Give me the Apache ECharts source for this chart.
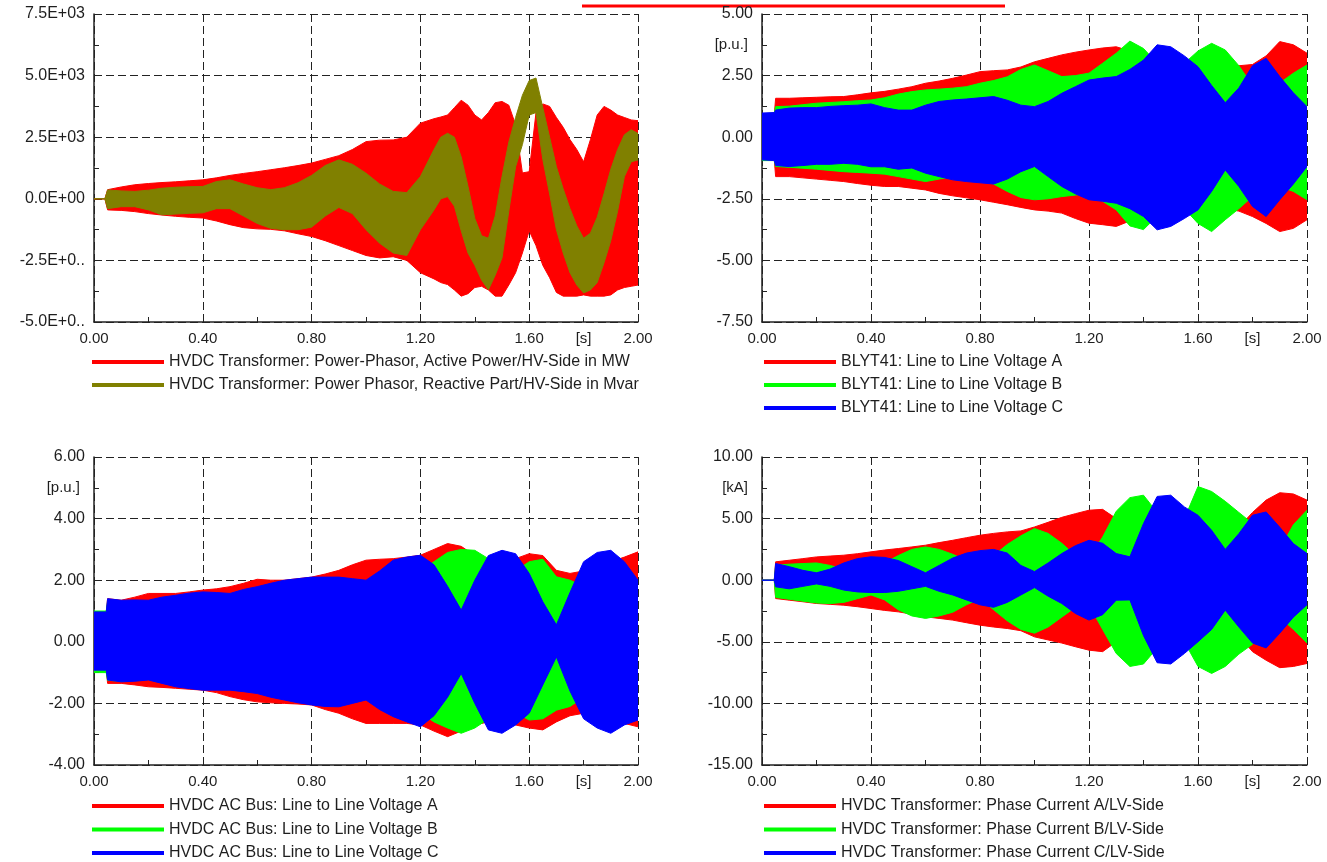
<!DOCTYPE html>
<html>
<head>
<meta charset="utf-8">
<script src="https://cdn.jsdelivr.net/npm/echarts@6/dist/echarts.min.js"></script>
<style>
html, body { margin: 0; padding: 0; background: #fff; }
#chart { width: 1327px; height: 862px; }
</style>
</head>
<body>
<div id="chart"></div>
<script>
// time samples [s]
var T1 = [0, 0.04, 0.05, 0.1, 0.15, 0.2, 0.25, 0.3, 0.35, 0.4,
    0.45, 0.5, 0.55, 0.6, 0.65, 0.7, 0.75, 0.8, 0.85, 0.9,
    0.95, 1.0, 1.05, 1.1, 1.15, 1.2, 1.25, 1.275, 1.3, 1.325,
    1.35, 1.375, 1.4, 1.425, 1.45, 1.475, 1.5, 1.525, 1.55, 1.575,
    1.6, 1.625, 1.65, 1.675, 1.7, 1.725, 1.75, 1.775, 1.8, 1.825,
    1.85, 1.875, 1.9, 1.925, 1.95, 1.975, 2.0];
var T = [0, 0.045, 0.05, 0.1, 0.15, 0.2, 0.25, 0.3, 0.35, 0.4,
    0.45, 0.5, 0.55, 0.6, 0.65, 0.7, 0.75, 0.8, 0.85, 0.9,
    0.95, 1.0, 1.05, 1.1, 1.15, 1.2, 1.25, 1.3, 1.35, 1.4,
    1.45, 1.5, 1.55, 1.6, 1.65, 1.7, 1.75, 1.8, 1.85, 1.9,
    1.95, 2.0];

// panel 1: active / reactive power, upper and lower envelope
var pP_hi = [0, 0, 370, 480, 570, 620, 660, 690, 730, 770,
    850, 950, 1030, 1100, 1180, 1260, 1350, 1450, 1600, 1750,
    2000, 2320, 2380, 2390, 2500, 3070, 3250, 3320, 3400, 3700,
    4000, 3800, 3400, 3200, 3500, 3900, 3950, 3800, 3000, 1050,
    1100, 3500, 3850, 3750, 3300, 2900, 2400, 2000, 1500, 2400,
    3400, 3750, 3600, 3400, 3300, 3200, 3170];
var pP_lo = [0, 0, -450, -470, -520, -600, -660, -710, -750, -780,
    -900, -1050, -1170, -1220, -1240, -1300, -1420, -1530, -1700, -1900,
    -2100, -2300, -2400, -2350, -2500, -3000, -3250, -3400, -3480, -3700,
    -3950, -3850, -3600, -3550, -3700, -3950, -3950, -3500, -3000, -2200,
    -1300, -1900, -2700, -3200, -3800, -3950, -3950, -3950, -3900, -3950,
    -3950, -3950, -3900, -3700, -3600, -3550, -3500];
var pQ_hi = [0, 0, 360, 320, 300, 350, 430, 470, 490, 500,
    700, 770, 600, 450, 370, 450, 650, 950, 1350, 1580,
    1400, 1040, 600, 300, 250, 900, 2000, 2500, 2660, 2500,
    1700, 500, -800, -1500, -1600, -700, 900, 2300, 3300, 4200,
    4800, 4900, 3700, 2500, 1300, 400, -400, -1100, -1600, -1400,
    -750, 200, 1200, 2000, 2600, 2800, 2650];
var pQ_lo = [0, 0, -400, -320, -320, -450, -650, -620, -590, -570,
    -400, -400, -700, -1000, -1200, -1255, -1255, -1150, -700, -350,
    -600, -1255, -1800, -2200, -2300, -1255, -450, 0, 90, -300,
    -1300, -2200, -2700, -3300, -3690, -3100, -2400, -500, 1300, 2200,
    3400, 3500, 1600, 200, -1250, -2200, -3000, -3500, -3820, -3700,
    -3400, -2600, -1700, -500, 900, 1500, 1580];

// panel 2: BLYT41 line to line voltages [p.u.]
var vA_hi = [0.9, 0.9, 1.58, 1.58, 1.60, 1.62, 1.64, 1.65, 1.72, 1.80,
    1.86, 1.95, 2.05, 2.19, 2.28, 2.39, 2.52, 2.66, 2.70, 2.73,
    2.85, 3.06, 3.20, 3.34, 3.45, 3.54, 3.62, 3.67, 3.50, 3.30,
    3.20, 3.10, 3.15, 3.10, 3.00, 2.95, 2.90, 2.95, 3.30, 3.88,
    3.75, 3.41];
var vA_lo = [-0.9, -0.9, -1.60, -1.60, -1.65, -1.70, -1.75, -1.80, -1.88, -1.95,
    -2.00, -2.00, -2.07, -2.14, -2.28, -2.38, -2.46, -2.54, -2.64, -2.74,
    -2.85, -2.95, -3.00, -3.08, -3.30, -3.49, -3.55, -3.62, -3.40, -3.20,
    -3.10, -3.00, -3.00, -2.95, -2.90, -2.90, -3.00, -3.22, -3.50, -3.83,
    -3.70, -3.35];
var vB_hi = [0.95, 0.98, 1.24, 1.26, 1.32, 1.38, 1.41, 1.44, 1.48, 1.51,
    1.60, 1.75, 1.85, 1.92, 1.95, 1.99, 2.05, 2.19, 2.30, 2.45,
    2.75, 2.93, 2.70, 2.46, 2.50, 2.60, 3.00, 3.41, 3.90, 3.60,
    3.00, 2.60, 3.00, 3.50, 3.81, 3.54, 2.90, 2.10, 2.00, 2.20,
    2.60, 2.93];
var vB_lo = [-0.95, -0.95, -1.19, -1.22, -1.26, -1.30, -1.35, -1.40, -1.43, -1.46,
    -1.50, -1.60, -1.70, -1.80, -1.70, -1.60, -1.65, -1.73, -1.90, -2.20,
    -2.45, -2.54, -2.50, -2.41, -2.35, -2.27, -2.60, -2.95, -3.60, -3.75,
    -3.20, -2.60, -2.90, -3.50, -3.83, -3.35, -2.90, -2.41, -2.20, -2.00,
    -2.20, -2.54];
var vC_hi = [0.98, 1.00, 1.10, 1.18, 1.20, 1.20, 1.25, 1.28, 1.30, 1.35,
    1.20, 1.10, 1.10, 1.30, 1.45, 1.51, 1.55, 1.60, 1.65, 1.50,
    1.30, 1.24, 1.45, 1.78, 2.05, 2.32, 2.40, 2.46, 2.75, 3.13,
    3.75, 3.67, 3.30, 2.86, 2.10, 1.40, 2.00, 2.90, 3.20, 2.46,
    1.80, 1.24];
var vC_lo = [-0.92, -0.95, -1.15, -1.19, -1.15, -1.10, -1.10, -1.06, -1.10, -1.20,
    -1.20, -1.30, -1.25, -1.46, -1.60, -1.73, -1.80, -1.85, -1.90, -1.70,
    -1.40, -1.19, -1.60, -2.00, -2.30, -2.54, -2.60, -2.68, -2.90, -3.22,
    -3.76, -3.62, -3.30, -2.95, -2.20, -1.33, -2.00, -2.81, -3.22, -2.54,
    -1.90, -1.19];

// panel 3: HVDC AC bus line to line voltages [p.u.]
var uA_hi = [0.90, 0.95, 1.40, 1.35, 1.45, 1.57, 1.57, 1.57, 1.62, 1.68,
    1.72, 1.79, 1.90, 2.03, 2.00, 2.00, 2.05, 2.10, 2.20, 2.32,
    2.50, 2.65, 2.68, 2.70, 2.75, 2.81, 3.00, 3.19, 3.10, 2.80,
    2.60, 2.60, 2.70, 2.86, 2.80, 2.32, 2.22, 2.30, 2.50, 2.60,
    2.75, 2.92];
var uA_lo = [-0.90, -0.90, -1.35, -1.35, -1.40, -1.46, -1.48, -1.51, -1.54, -1.57,
    -1.65, -1.78, -1.88, -1.95, -1.98, -2.00, -2.02, -2.05, -2.20, -2.32,
    -2.50, -2.65, -2.65, -2.65, -2.65, -2.70, -2.90, -3.08, -2.90, -2.70,
    -2.60, -2.60, -2.70, -2.80, -2.86, -2.60, -2.40, -2.32, -2.40, -2.50,
    -2.65, -2.76];
var uB_hi = [1.00, 1.00, 1.30, 1.30, 1.30, 1.30, 1.40, 1.45, 1.50, 1.55,
    1.55, 1.55, 1.60, 1.70, 1.80, 1.90, 1.95, 2.00, 2.00, 2.00,
    1.95, 1.90, 2.00, 2.10, 2.20, 2.30, 2.60, 2.90, 3.00, 2.97,
    2.70, 2.30, 2.30, 2.60, 2.68, 2.11, 2.00, 1.80, 1.60, 1.50,
    1.60, 1.80];
var uB_lo = [-1.00, -1.00, -1.25, -1.28, -1.25, -1.22, -1.30, -1.40, -1.45, -1.50,
    -1.50, -1.50, -1.55, -1.62, -1.72, -1.80, -1.90, -1.95, -2.00, -2.00,
    -1.95, -1.85, -2.00, -2.10, -2.20, -2.30, -2.60, -2.80, -2.97, -2.80,
    -2.50, -2.30, -2.30, -2.54, -2.50, -2.22, -2.10, -1.80, -1.60, -1.50,
    -1.60, -1.80];
var uC_hi = [0.97, 0.97, 1.40, 1.35, 1.36, 1.35, 1.45, 1.51, 1.58, 1.62,
    1.60, 1.57, 1.70, 1.79, 1.90, 2.00, 2.05, 2.10, 2.10, 2.10,
    2.05, 2.00, 2.30, 2.65, 2.75, 2.81, 2.50, 1.80, 1.03, 2.00,
    2.80, 2.97, 2.86, 2.22, 1.30, 0.55, 1.60, 2.60, 2.90, 2.97,
    2.60, 2.00];
var uC_lo = [-0.92, -0.92, -1.24, -1.30, -1.28, -1.24, -1.35, -1.46, -1.52, -1.57,
    -1.57, -1.57, -1.62, -1.68, -1.80, -1.89, -1.98, -2.05, -2.10, -2.11,
    -2.00, -1.89, -2.20, -2.43, -2.60, -2.76, -2.40, -1.80, -1.03, -2.00,
    -2.86, -2.97, -2.70, -2.32, -1.40, -0.49, -1.60, -2.50, -2.80, -2.97,
    -2.70, -2.54];

// panel 4: HVDC transformer phase currents [kA]
var iA_hi = [0, 0, 1.49, 1.62, 1.75, 1.89, 1.96, 2.03, 2.15, 2.30,
    2.45, 2.57, 2.70, 2.84, 3.05, 3.24, 3.45, 3.65, 3.80, 3.92,
    4.00, 4.32, 4.70, 5.10, 5.40, 5.68, 5.75, 5.00, 4.20, 3.50,
    3.00, 3.00, 3.20, 3.50, 3.70, 3.80, 4.30, 5.50, 6.50, 7.10,
    7.00, 6.50];
var iA_lo = [0, 0, -1.49, -1.62, -1.75, -1.89, -1.96, -2.03, -2.15, -2.30,
    -2.45, -2.57, -2.75, -2.97, -3.10, -3.24, -3.45, -3.65, -3.80, -3.92,
    -4.10, -4.60, -4.85, -5.10, -5.40, -5.68, -5.80, -5.00, -4.20, -3.50,
    -3.00, -3.00, -3.20, -3.50, -3.70, -3.80, -4.50, -5.80, -6.50, -7.10,
    -7.00, -6.76];
var iB_hi = [0, 0, 1.20, 1.30, 1.35, 1.40, 1.20, 0.90, 0.70, 0.80,
    1.40, 2.00, 2.50, 2.70, 2.50, 2.10, 1.60, 1.30, 2.00, 2.90,
    3.60, 4.19, 3.80, 3.00, 2.00, 1.80, 3.50, 5.60, 6.70, 6.90,
    5.50, 3.50, 5.00, 7.60, 7.20, 6.40, 5.50, 4.60, 3.50, 2.50,
    4.50, 5.68];
var iB_lo = [0, 0, -1.40, -1.55, -1.70, -1.85, -1.90, -1.80, -1.50, -1.20,
    -1.60, -2.40, -2.90, -3.10, -2.90, -2.60, -2.00, -1.50, -2.40, -3.30,
    -4.00, -4.30, -3.80, -3.00, -2.20, -2.00, -4.00, -5.95, -7.00, -6.80,
    -5.50, -3.50, -5.00, -7.00, -7.57, -7.00, -6.00, -5.20, -4.00, -3.00,
    -4.00, -5.10];
var iC_hi = [0, 0, 1.35, 1.10, 0.80, 0.60, 0.90, 1.40, 1.75, 1.90,
    1.85, 1.60, 1.10, 0.60, 1.20, 1.80, 2.20, 2.40, 2.50, 2.20,
    1.20, 0.70, 1.40, 2.16, 2.80, 3.24, 3.00, 2.16, 1.90, 4.60,
    6.80, 6.90, 5.95, 5.27, 4.05, 2.50, 3.78, 5.27, 5.54, 4.30,
    2.97, 2.16];
var iC_lo = [0, 0, -0.54, -0.70, -0.50, -0.30, -0.50, -0.80, -0.95, -1.00,
    -1.00, -0.90, -0.70, -0.50, -0.90, -1.20, -1.60, -2.00, -2.20, -1.80,
    -1.20, -0.60, -1.30, -1.89, -2.70, -3.24, -2.80, -1.62, -1.60, -4.50,
    -6.70, -6.80, -5.95, -5.00, -4.00, -2.43, -3.80, -5.10, -5.50, -4.30,
    -3.00, -2.00];

// tick labels
var xLabels = ['0.00', '0.40', '0.80', '1.20', '1.60', '2.00'];
var y1Labels = ['-5.0E+0..', '-2.5E+0..', '0.0E+00', '2.5E+03', '5.0E+03', '7.5E+03'];
var y2Labels = ['-7.50', '-5.00', '-2.50', '0.00', '2.50', '5.00'];
var y3Labels = ['-4.00', '-2.00', '0.00', '2.00', '4.00', '6.00'];
var y4Labels = ['-15.00', '-10.00', '-5.00', '0.00', '5.00', '10.00'];
var units = ['', '[p.u.]', '[p.u.]', '[kA]'];

var RED = '#ff0000', GREEN = '#00ff00', BLUE = '#0000ff', OLIVE = '#808000';
var FONT = 'Liberation Sans, Arial, sans-serif';
var TXT = '#1e1e1e';
var AX = '#222';

var grids = [
    {left: 94, top: 14, width: 544, height: 308},
    {left: 762, top: 14, width: 545, height: 308},
    {left: 94, top: 457, width: 544, height: 308},
    {left: 762, top: 457, width: 545, height: 308}
];
var yScale = [
    {min: -5000, max: 7500, step: 2500, labels: y1Labels, unitAt: null},
    {min: -7.5, max: 5, step: 2.5, labels: y2Labels, unitAt: 3.75},
    {min: -4, max: 6, step: 2, labels: y3Labels, unitAt: 5},
    {min: -15, max: 10, step: 5, labels: y4Labels, unitAt: 7.5}
];

var xAxes = [], yAxes = [];
grids.forEach(function (g, i) {
    g.outerBoundsMode = 'none';
    xAxes.push({
        type: 'value', gridIndex: i, min: 0, max: 2, interval: 0.4, position: 'bottom',
        axisLine: {show: true, onZero: false, lineStyle: {color: AX, width: 1.5}},
        axisTick: {show: true, inside: true, length: 5, lineStyle: {color: AX}},
        minorTick: {show: true, splitNumber: 2, length: 5, lineStyle: {color: AX}},
        splitLine: {show: true, lineStyle: {color: AX, width: 1, type: [8, 4]}},
        axisLabel: {margin: 9, fontSize: 15, color: TXT, fontFamily: FONT,
            formatter: function (v) { return xLabels[Math.round(v / 0.4)]; }}
    });
    xAxes.push({
        type: 'value', gridIndex: i, min: 0, max: 2, interval: 0.2, position: 'bottom',
        axisLine: {show: false}, axisTick: {show: false}, splitLine: {show: false},
        axisLabel: {margin: 9, fontSize: 15, color: TXT, fontFamily: FONT,
            formatter: function (v) { return Math.abs(v - 1.8) < 1e-6 ? '[s]' : ''; }}
    });
    var s = yScale[i];
    yAxes.push({
        type: 'value', gridIndex: i, min: s.min, max: s.max, interval: s.step, position: 'left',
        axisLine: {show: true, onZero: false, lineStyle: {color: AX, width: 1.5}},
        axisTick: {show: true, inside: true, length: 5, lineStyle: {color: AX}},
        minorTick: {show: true, splitNumber: 2, length: 5, lineStyle: {color: AX}},
        splitLine: {show: true, lineStyle: {color: AX, width: 1, type: [8, 4]}},
        axisLabel: {margin: 9, fontSize: 16, color: TXT, fontFamily: FONT,
            formatter: function (v) { return s.labels[Math.round((v - s.min) / s.step)]; }}
    });
    yAxes.push({
        type: 'value', gridIndex: i, min: s.min, max: s.max, interval: s.step / 2, position: 'left',
        axisLine: {show: false}, axisTick: {show: false}, splitLine: {show: false},
        axisLabel: {margin: 14, fontSize: 15, color: TXT, fontFamily: FONT,
            formatter: function (v) { return (s.unitAt !== null && Math.abs(v - s.unitAt) < 1e-6) ? units[i] : ''; }}
    });
});

// envelope band: one polygon through the upper points, back along the lower points
function band(name, color, t, lo, hi, g) {
    return {
        name: name, type: 'custom', xAxisIndex: 2 * g, yAxisIndex: 2 * g,
        silent: true, clip: true,
        itemStyle: {color: color},
        encode: {x: 0, y: [1, 2]},
        data: t.map(function (x, k) { return [x, lo[k], hi[k]]; }),
        renderItem: function (params, api) {
            if (params.dataIndex !== 0) return null;
            var pts = [];
            for (var k = 0; k < t.length; k++) pts.push(api.coord([t[k], hi[k]]));
            for (var k = t.length - 1; k >= 0; k--) pts.push(api.coord([t[k], lo[k]]));
            return {
                type: 'polygon',
                shape: {points: pts},
                style: {fill: color, stroke: color, lineWidth: 1}
            };
        }
    };
}

var n1 = ['HVDC Transformer: Power-Phasor, Active Power/HV-Side in MW',
    'HVDC Transformer: Power Phasor, Reactive Part/HV-Side in Mvar'];
var n2 = ['BLYT41: Line to Line Voltage A', 'BLYT41: Line to Line Voltage B', 'BLYT41: Line to Line Voltage C'];
var n3 = ['HVDC AC Bus: Line to Line Voltage A', 'HVDC AC Bus: Line to Line Voltage B', 'HVDC AC Bus: Line to Line Voltage C'];
var n4 = ['HVDC Transformer: Phase Current A/LV-Side', 'HVDC Transformer: Phase Current B/LV-Side',
    'HVDC Transformer: Phase Current C/LV-Side'];

var series = [
    band(n1[0], RED, T1, pP_lo, pP_hi, 0),
    band(n1[1], OLIVE, T1, pQ_lo, pQ_hi, 0),
    band(n2[0], RED, T, vA_lo, vA_hi, 1),
    band(n2[1], GREEN, T, vB_lo, vB_hi, 1),
    band(n2[2], BLUE, T, vC_lo, vC_hi, 1),
    band(n3[0], RED, T, uA_lo, uA_hi, 2),
    band(n3[1], GREEN, T, uB_lo, uB_hi, 2),
    band(n3[2], BLUE, T, uC_lo, uC_hi, 2),
    band(n4[0], RED, T, iA_lo, iA_hi, 3),
    band(n4[1], GREEN, T, iB_lo, iB_hi, 3),
    band(n4[2], BLUE, T, iC_lo, iC_hi, 3)
];

function legend(names, left, top, gap) {
    return {
        data: names, left: left, top: top, orient: 'vertical', icon: 'rect',
        itemWidth: 72, itemHeight: 4, itemGap: gap, selectedMode: false, padding: 0,
        textStyle: {fontSize: 16, color: TXT, fontFamily: FONT}
    };
}

echarts.init(document.getElementById('chart')).setOption({
    animation: false,
    backgroundColor: '#fff',
    grid: grids,
    xAxis: xAxes,
    yAxis: yAxes,
    legend: [
        legend(n1, 92, 354, 7),
        legend(n2, 764, 354, 7),
        legend(n3, 92, 798, 7.5),
        legend(n4, 764, 798, 7.5)
    ],
    graphic: [{
        type: 'line', silent: true,
        shape: {x1: 582, y1: 6, x2: 1005, y2: 6},
        style: {stroke: RED, lineWidth: 3}
    }],
    series: series
});
</script>
</body>
</html>
